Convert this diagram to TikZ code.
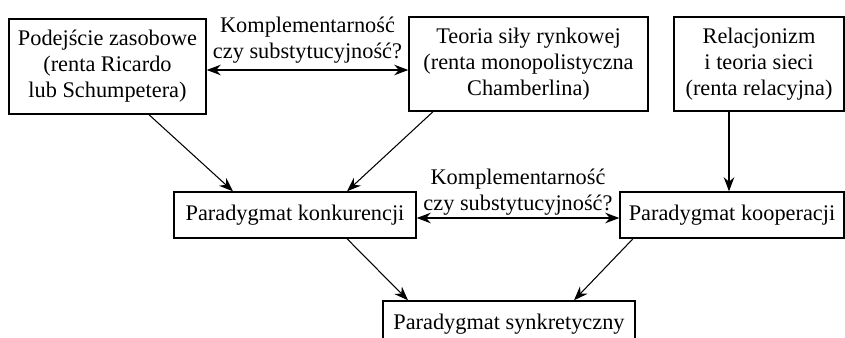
\documentclass[tikz,border=0pt]{standalone}
\usepackage{fontspec}
\setmainfont{Liberation Serif}
\usetikzlibrary{arrows.meta}

\begin{document}
\begin{tikzpicture}[>={Stealth[length=8pt,width=6pt]},
    boite/.style={draw,thick,align=center,inner sep=0pt,font=\fontsize{12.7}{14.8}\selectfont},
    texte/.style={align=center,inner sep=0pt,font=\fontsize{12.7}{14.8}\selectfont}]
    \useasboundingbox (0,0) rectangle (16.9,-6.76);

    % Dessine les boites du haut
    \node[boite,minimum width=3.94cm,minimum height=1.9cm] (zasob) at (2.15,-1.33)
        {Podejście zasobowe\\(renta Ricardo\\lub Schumpetera)};
    \node[boite,minimum width=4.78cm,minimum height=1.88cm] (sila) at (10.57,-1.28)
        {Teoria siły rynkowej\\(renta monopolistyczna\\Chamberlina)};
    \node[boite,minimum width=3.4cm,minimum height=1.88cm] (relac) at (15.18,-1.28)
        {Relacjonizm\\i teoria sieci\\(renta relacyjna)};

    % Dessine les paradigmes
    \node[boite,minimum width=4.84cm,minimum height=0.92cm] (konk) at (5.9,-4.3) {Paradygmat konkurencji};
    \node[boite,minimum width=4.48cm,minimum height=0.92cm] (koop) at (14.64,-4.3) {Paradygmat kooperacji};
    \node[boite,minimum width=5.04cm,minimum height=0.92cm] (synk) at (10.18,-6.48) {Paradygmat synkretyczny};

    % Dessine les flèches
    \draw[->,semithick] ([xshift=0.83cm]zasob.south) -- ([xshift=-1.24cm]konk.north);
    \draw[->,semithick] ([xshift=-1.91cm]sila.south) -- ([xshift=1.04cm]konk.north);
    \draw[->,semithick] ([xshift=-0.6cm]relac.south) -- ([xshift=-0.6cm]relac.south |- koop.north);
    \draw[->,semithick] ([xshift=1.04cm]konk.south) -- ([xshift=-2.02cm]synk.north);
    \draw[->,semithick] ([xshift=-1.98cm]koop.south) -- ([xshift=1.3cm]synk.north);

    % Flèches doubles avec la question
    \draw[<->,semithick] ([yshift=-0.07cm]zasob.east) -- ([yshift=-0.07cm]zasob.east -| sila.west)
        node[midway,above=0.12cm,texte] {Komplementarność\\czy substytucyjność?};
    \draw[<->,semithick] ([yshift=-0.06cm]konk.east) -- ([yshift=-0.06cm]konk.east -| koop.west)
        node[midway,above=0.05cm,texte] {Komplementarność\\czy substytucyjność?};
\end{tikzpicture}
\end{document}
